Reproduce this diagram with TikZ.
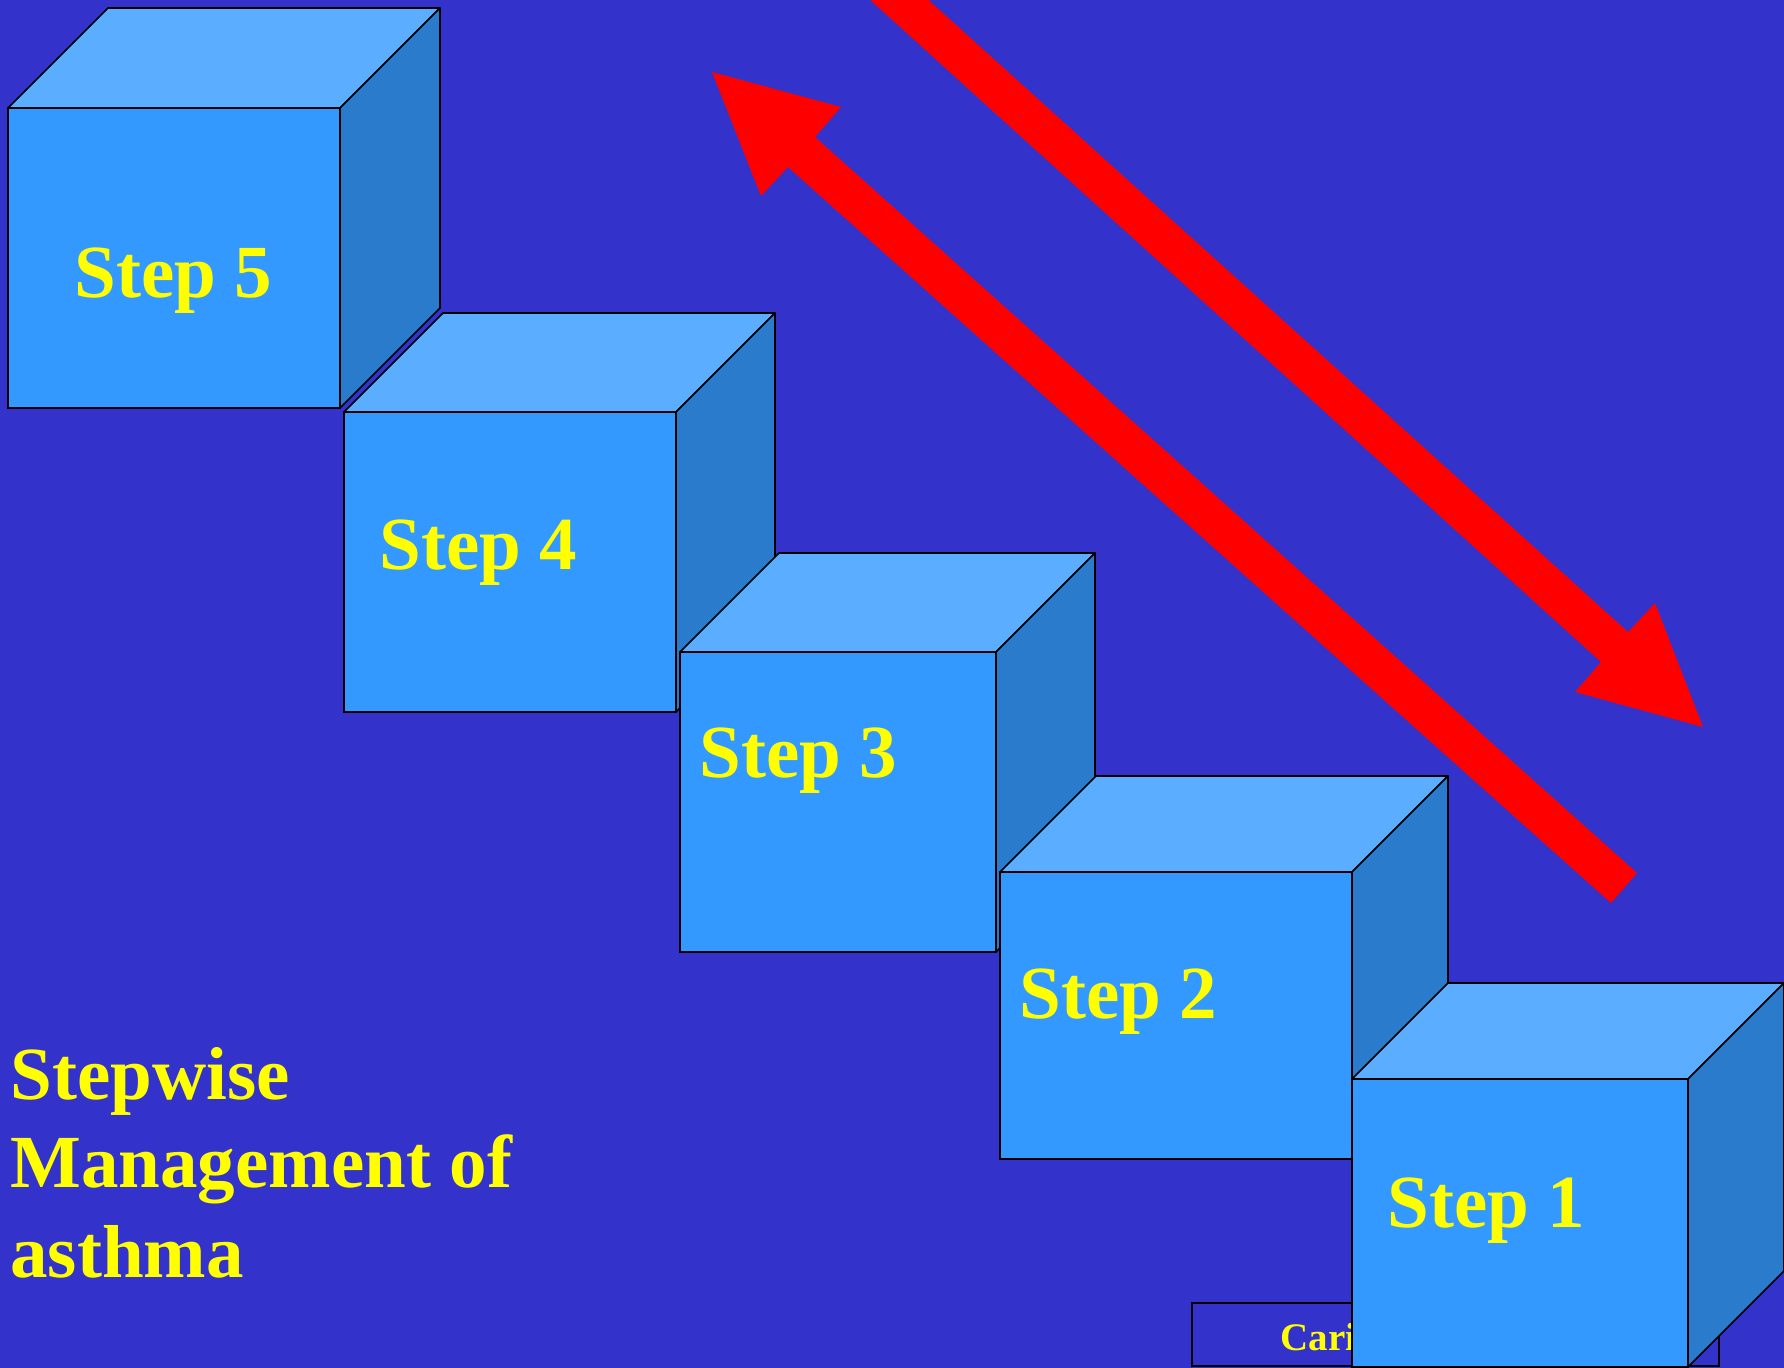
\documentclass[tikz,border=0pt]{standalone}
\usepackage{fontspec}
\setmainfont{Liberation Serif}
\definecolor{bgblue}{HTML}{3333CC}
\definecolor{frontblue}{HTML}{3399FF}
\definecolor{topblue}{HTML}{5BADFF}
\definecolor{sideblue}{HTML}{2A7BCC}
\definecolor{txtyellow}{HTML}{FFFF00}
\definecolor{arrowred}{HTML}{FF0000}
\newcommand\cubebox[5]{%
  \fill[frontblue,draw=black,line width=0.8pt] (#1,#2) rectangle (#3,#4);
  \fill[topblue,draw=black,line width=0.8pt,line join=round] (#1,#2) -- ({#1+#5},{#2-#5}) -- ({#3+#5},{#2-#5}) -- (#3,#2) -- cycle;
  \fill[sideblue,draw=black,line width=0.8pt,line join=round] (#3,#2) -- ({#3+#5},{#2-#5}) -- ({#3+#5},{#4-#5}) -- (#3,#4) -- cycle;
}
\tikzset{
  steplabel/.style={anchor=base west,inner sep=0pt,text=txtyellow,font=\fontsize{37.5}{44}\selectfont\bfseries},
  titleline/.style={anchor=base west,inner sep=0pt,text=txtyellow,font=\fontsize{37.5}{44}\selectfont\bfseries},
  bigarrow/.style={fill=arrowred}
}
\begin{document}
\begin{tikzpicture}[x=0.5pt,y=-0.5pt]
\useasboundingbox (0,0) rectangle (1784,1368);
\clip (0,0) rectangle (1784,1368);
\fill[bgblue] (0,0) rectangle (1784,1368);

% cubes (back to front)
\cubebox{8}{108}{340}{408}{100}
\node[steplabel] (s5) at (74,298) {Step 5};
\cubebox{344}{412}{676}{712}{99}
\node[steplabel] (s4) at (379,570) {Step 4};
\cubebox{680}{652}{996}{952}{99}
\node[steplabel] (s3) at (699,778) {Step 3};
\cubebox{1000}{872}{1352}{1159}{96}
\node[steplabel] (s2) at (1019,1018) {Step 2};

% footer box partly hidden
\draw[black,line width=0.8pt] (1192,1303) rectangle (1719,1366);
\node[anchor=base west,inner sep=0pt,text=txtyellow,font=\fontsize{19.5}{22}\selectfont\bfseries] (cari) at (1280,1350) {Cari};

\cubebox{1352}{1079}{1688}{1367}{96}
\node[steplabel] (s1) at (1387,1227) {Step 1};

% title
\node[titleline] (t1) at (10,1099) {Stepwise};
\node[titleline] (t2) at (10,1187) {Management of};
\node[titleline] (t3) at (10,1277) {asthma};

% red arrows
\fill[bigarrow] (804,-60) -- (1601,662) -- (1575,692) -- (1703,727) -- (1655,603) -- (1628,632) -- (862,-60) -- cycle;
\fill[bigarrow] (712,72) -- (841,107) -- (815,137) -- (1637,873) -- (1611,903) -- (788,167) -- (761,196) -- cycle;
\end{tikzpicture}
\end{document}
